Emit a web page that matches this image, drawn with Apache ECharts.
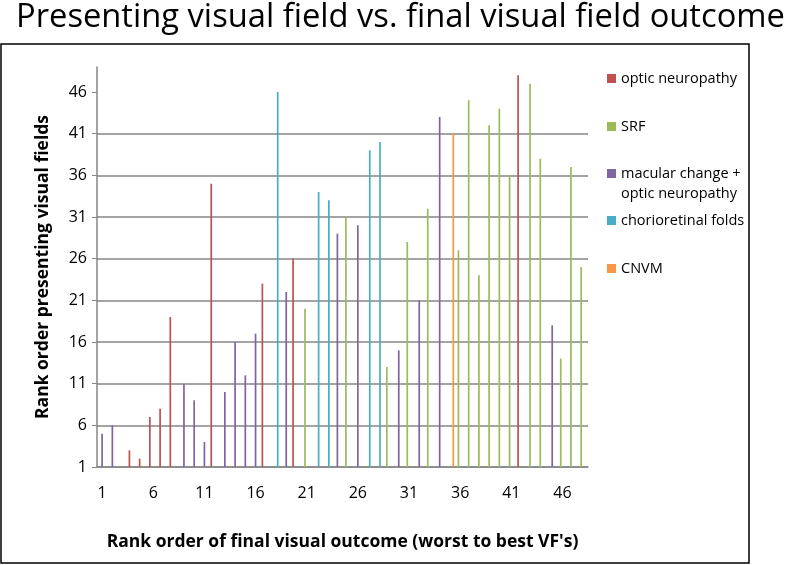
<!DOCTYPE html>
<html>
<head>
<meta charset="utf-8">
<script src="https://cdn.jsdelivr.net/npm/echarts@6/dist/echarts.min.js"></script>
<style>html,body{margin:0;padding:0;background:#fff}#c{width:785px;height:565px}</style>
</head>
<body>
<div id="c"></div>
<script>
var categories = ['1','2','3','4','5','6','7','8','9','10','11','12','13','14','15','16','17','18','19','20','21','22','23','24','25','26','27','28','29','30','31','32','33','34','35','36','37','38','39','40','41','42','43','44','45','46','47','48'];
var yTicks = [1, 6, 11, 16, 21, 26, 31, 36, 41, 46];

var opticRank = [4, 5, 6, 7, 8, 12, 17, 20, 42];
var opticVal  = [3, 2, 7, 8, 19, 35, 23, 26, 48];

var srfRank = [21, 25, 29, 31, 33, 36, 37, 38, 39, 40, 41, 43, 44, 46, 47, 48];
var srfVal  = [20, 31, 13, 28, 32, 27, 45, 24, 42, 44, 36, 47, 38, 14, 37, 25];

var macRank = [1, 2, 3, 9, 10, 11, 13, 14, 15, 16, 19, 24, 26, 30, 32, 34, 45];
var macVal  = [5, 6, 1, 11, 9, 4, 10, 16, 12, 17, 22, 29, 30, 15, 21, 43, 18];

var foldRank = [18, 22, 23, 27, 28];
var foldVal  = [46, 34, 33, 39, 40];

var cnvmRank = [35];
var cnvmVal  = [41];

var names = ['optic neuropathy', 'SRF', 'macular change + optic neuropathy', 'chorioretinal folds', 'CNVM'];
var colors = ['#C0504D', '#9BBB59', '#8064A2', '#4BACC6', '#F79646'];

function pairs(r, v) { return r.map(function (x, i) { return [String(x), v[i]]; }); }
var seriesData = [pairs(opticRank, opticVal), pairs(srfRank, srfVal), pairs(macRank, macVal), pairs(foldRank, foldVal), pairs(cnvmRank, cnvmVal)];

var FONT = 'Open Sans';
var legendTops = [66, 114, 161, 208, 256];
var legends = names.map(function (n, i) {
  return {
    data: [n], orient: 'vertical', left: 602, top: legendTops[i],
    itemWidth: 9, itemHeight: 9, itemGap: 0, icon: 'rect',
    selectedMode: false,
    formatter: function (name) { return name === names[2] ? 'macular change +' : name; },
    textStyle: { fontFamily: FONT, fontSize: 14.5, color: '#000' }
  };
});

var chart = echarts.init(document.getElementById('c'), null, { renderer: 'canvas' });
chart.setOption({
  animation: false,
  backgroundColor: '#fff',
  title: { text: 'Presenting visual field vs. final visual field outcome', left: 11, top: -4,
    textStyle: { fontFamily: FONT, fontWeight: 'normal', fontSize: 32.7, color: '#000' } },
  legend: legends,
  graphic: [
    { type: 'rect', shape: { x: 1, y: 44, width: 748, height: 519 }, style: { fill: 'none', stroke: '#000', lineWidth: 1.5 }, silent: true, z: -1 },
    { type: 'text', left: 621, top: 186, style: { text: 'optic neuropathy', fontFamily: FONT, fontSize: 14.5, fill: '#000' }, silent: true }
  ],
  grid: { left: 97, top: 67, right: 197, bottom: 98 },
  xAxis: {
    type: 'category', data: categories,
    name: 'Rank order of final visual outcome (worst to best VF\'s)',
    nameLocation: 'middle', nameGap: 66,
    nameTextStyle: { fontFamily: FONT, fontWeight: 'bold', fontSize: 17.5, color: '#000' },
    axisLine: { lineStyle: { color: '#868686', width: 1.5 } },
    axisTick: { interval: 0, length: 5, lineStyle: { color: '#868686' } },
    axisLabel: { interval: 4, margin: 18, fontFamily: FONT, fontSize: 16, color: '#000' }
  },
  yAxis: {
    type: 'value', min: 1, max: 49, interval: 5,
    name: 'Rank order presenting visual fields',
    nameLocation: 'middle', nameGap: 45,
    nameTextStyle: { fontFamily: FONT, fontWeight: 'bold', fontSize: 17.5, color: '#000' },
    axisLine: { show: true, lineStyle: { color: '#868686', width: 1.5 } },
    axisTick: { show: true, length: 5, customValues: yTicks, lineStyle: { color: '#868686' } },
    axisLabel: { margin: 10, customValues: yTicks, fontFamily: FONT, fontSize: 16, color: '#000' },
    splitLine: { show: true, showMaxLine: false, lineStyle: { color: '#868686', width: 1.5 } }
  },
  series: names.map(function (n, i) {
    return { type: 'bar', name: n, data: seriesData[i], barGap: '0%', barCategoryGap: '17%',
      itemStyle: { color: colors[i] } };
  })
});
</script>
</body>
</html>
